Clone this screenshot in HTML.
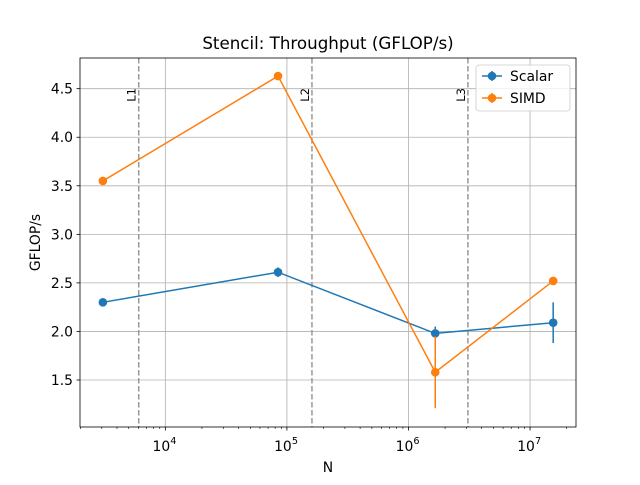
<!DOCTYPE html>
<html><head><meta charset="utf-8"><style>
body{margin:0;background:#fff}
svg text{font-family:"DejaVu Sans","Liberation Sans",sans-serif}
</style></head><body>
<svg id="chart" width="640" height="480" xmlns="http://www.w3.org/2000/svg"></svg>
<script>
const sizes=[3062,84500,1660000,15500000];
const scalarVals=[2.30,2.61,1.98,2.09];
const scalarErr=[0.01,0.05,0.07,0.21];
const simdVals=[3.55,4.63,1.58,2.52];
const simdErr=[0.01,0.01,0.37,0.01];
const cacheLabels=["L1","L2","L3"];
const cacheSizes=[6040,160700,3083000];
const yTicks=[1.5,2.0,2.5,3.0,3.5,4.0,4.5];
const xTicks=[4,5,6,7];
const L=80,R=576,T=58,B=427;
const lx0=3.298,lx1=7.378,y0=1.016,y1=4.816;
const X=v=>L+(Math.log10(v)-lx0)/(lx1-lx0)*(R-L);
const Y=v=>B-(v-y0)/(y1-y0)*(B-T);
const svg=document.getElementById('chart');
const NS='http://www.w3.org/2000/svg';
function mk(tag,at,txt){const e=document.createElementNS(NS,tag);for(const k in at)e.setAttribute(k,at[k]);if(txt!=null)e.textContent=txt;svg.appendChild(e);return e;}
yTicks.forEach(t=>{const e=mk('line',{x1:L,x2:R,y1:Y(t),y2:Y(t),stroke:'#b0b0b0','stroke-width':0.8});


const tk=mk('line',{x1:L-3.5,x2:L,y1:Y(t),y2:Y(t),stroke:'#000','stroke-width':0.8});


const tl=mk('text',{x:L-7,y:Y(t)+5,'text-anchor':'end','font-size':13.9},t.toFixed(1));

});
xTicks.forEach(p=>{const x=X(Math.pow(10,p));const e=mk('line',{x1:x,x2:x,y1:T,y2:B,stroke:'#b0b0b0','stroke-width':0.8});


const tk=mk('line',{x1:x,x2:x,y1:B,y2:B+3.5,stroke:'#000','stroke-width':0.8});


const tl=mk('text',{x:x-4,y:B+24,'text-anchor':'middle','font-size':13.9},'10');


const sp=mk('text',{x:x+8,y:B+17,'text-anchor':'middle','font-size':9.7},String(p));

});
for(let p=3;p<=7;p++)for(let m=2;m<=9;m++){const v=m*Math.pow(10,p);const lv=Math.log10(v);if(lv<lx0||lv>lx1)continue;const x=X(v);
const e=mk('line',{x1:x,x2:x,y1:B,y2:B+2,stroke:'#000','stroke-width':0.6});

}
cacheSizes.forEach((c,i)=>{const x=X(c);const e=mk('line',{x1:x,x2:x,y1:T,y2:B,stroke:'#999','stroke-width':1.5,'stroke-dasharray':'5.5,2.5'});


const t=mk('text',{x:0,y:0,'font-size':11.5,'text-anchor':'end',transform:`translate(${x-3},${T+30}) rotate(-90)`},cacheLabels[i]);

});
function series(vals,err,color,name){
const pts=sizes.map((s,i)=>X(s)+','+Y(vals[i])).join(' ');
const pl=mk('polyline',{points:pts,fill:'none',stroke:color,'stroke-width':1.5});


sizes.forEach((s,i)=>{const x=X(s);
const eb=mk('line',{x1:x,x2:x,y1:Y(vals[i]-err[i]),y2:Y(vals[i]+err[i]),stroke:color,'stroke-width':1.5});


const c=mk('circle',{cx:x,cy:Y(vals[i]),r:4.3,fill:color});

});}
series(scalarVals,scalarErr,'#1f77b4','scalar');
series(simdVals,simdErr,'#ff7f0e','simd');
const fr=mk('rect',{x:L,y:T,width:R-L,height:B-T,fill:'none',stroke:'#000','stroke-width':0.8});


const ti=mk('text',{x:(L+R)/2,y:T-9,'text-anchor':'middle','font-size':16.7},'Stencil: Throughput (GFLOP/s)');


const xl=mk('text',{x:(L+R)/2,y:472,'text-anchor':'middle','font-size':13.9},'N');


const yl=mk('text',{x:0,y:0,'text-anchor':'middle','font-size':13.9,transform:`translate(40,${(T+B)/2}) rotate(-90)`},'GFLOP/s');


const lg=mk('rect',{x:476,y:65,width:94,height:46,rx:3,fill:'#fff','fill-opacity':0.8,stroke:'#ccc','stroke-width':0.8});


[['Scalar','#1f77b4',76],['SIMD','#ff7f0e',98]].forEach(([n,c,y])=>{
const l=mk('line',{x1:482,x2:502,y1:y,y2:y,stroke:c,'stroke-width':1.5});


const v=mk('line',{x1:492,x2:492,y1:y-5,y2:y+5,stroke:c,'stroke-width':1.5});


const m=mk('circle',{cx:492,cy:y,r:4.3,fill:c});


const t=mk('text',{x:510,y:y+5,'font-size':13.9},n);

});
</script>
</body></html>
